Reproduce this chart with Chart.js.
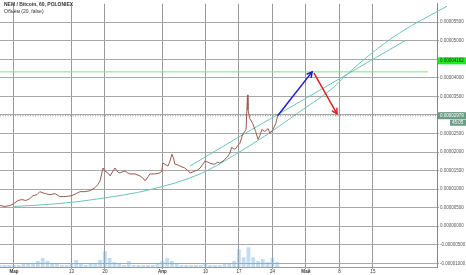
<!DOCTYPE html>
<html lang="ru">
<head>
<meta charset="UTF-8">
<title>NEM / Bitcoin, 60, POLONIEX</title>
<script src="https://cdn.jsdelivr.net/npm/chart.js"></script>
<style>
  html, body { margin: 0; padding: 0; background: #fff; }
  #wrap { width: 466px; height: 275px; }
</style>
</head>
<body>
<div id="wrap"><canvas id="chart" width="466" height="275"></canvas></div>
<script>
// days are counted from 1 March, prices are in satoshi (1e-8 BTC)
const tickDays  = [0, 12, 19, 31, 40, 47, 54, 61, 68, 75];
const tickText  = ['Мар', '13', '20', 'Апр', '10', '17', '24', 'Май', '8', '15'];
const monthTicks = ['Мар', 'Апр', 'Май'];
const yTicks = [5500, 5000, 4500, 4000, 3500, 3000, 2500, 2000, 1500, 1000, 500, 0, -500, -1000];

const priceDays = [-2.9,-1.9,-0.8,0,0.8,1.7,2.5,3.3,4.0,4.8,5.4,6.5,7.5,8.6,9.6,10.7,12.1,13.0,13.8,14.8,
  15.9,16.9,17.5,18.0,18.6,19.0,19.6,20.1,20.7,21.1,21.7,22.1,23.2,23.8,24.2,25.3,26.3,26.9,27.4,28.0,
  28.4,29.5,30.5,30.9,31.1,31.8,32.2,32.6,33.0,33.4,33.6,34.3,34.7,35.7,36.4,36.8,37.4,37.8,38.4,38.9,
  39.5,39.9,40.5,40.9,41.6,42.0,42.6,43.0,43.7,44.1,44.7,45.1,45.5,46.0,46.4,46.8,47.2,47.8,48.5,48.8,
  48.9,49.3,49.9,50.5,51.0,51.4,51.8,52.4,53.1,53.5,54.1,54.7,55.1];
const priceSat = [559,532,559,612,692,718,692,745,825,851,931,878,851,878,798,798,825,878,931,931,
  958,1037,1117,1224,1569,1490,1436,1357,1490,1569,1463,1436,1490,1436,1410,1410,1357,1303,1224,1330,
  1410,1410,1436,1490,1702,1649,1623,1756,1942,1809,1676,1649,1623,1569,1490,1436,1463,1490,1516,1569,
  1676,1756,1729,1702,1676,1676,1729,1702,1756,1809,1889,1968,2128,2075,2101,2181,2234,2474,2607,3540,
  3139,2899,2766,2554,2341,2447,2607,2554,2633,2500,2607,2766,2979];

// volume (arbitrary units), one bar per day from day -3
const volStart = -3;
const volume = [2,2,2,2,2,3,3,4,6,9,6,4,3,2,2,3,7,3,2,3,4,7,16,9,5,4,2,6,2,2,
  2,2,2,4,6,9,6,4,2,2,2,2,2,3,2,2,2,3,4,6,18,10,20,10,6,8,5,9,5];

// drawn curves
const curveDays = [0, 9.6, 18.0, 28.4, 38.9, 45.7, 52.9, 59.7, 66.6, 69.6, 74.4, 80.6, 90.5];
const curveSat  = [532, 612, 745, 984, 1410, 1889, 2474, 3086, 3724, 4096, 4628, 5214, 5932];
const channelDays = [36.8, 47.2, 59.7, 69.6, 81.7];
const channelSat  = [1623, 2421, 3352, 4096, 5001];

// forecast arrows and levels
const upArrowDays = [55.1, 62.3];
const upArrowSat  = [2979, 4162];
const downArrowDays = [62.7, 67.5];
const downArrowSat  = [4130, 3030];
const targetLevel = 4162;
const targetEndDay = 86.5;
const lastPrice = 2979;
const countdown = '45:05';

const xMin = -2.92, xMax = 88.4;
const yMin = -1100, yMax = 6000;

const pts = (xs, ys) => xs.map((x, i) => ({ x: x, y: ys[i] }));
const fmt = v => (v / 1e8).toFixed(8);
const isMonth = v => monthTicks.includes(tickText[tickDays.indexOf(v)]);

const extras = {
  id: 'extras',
  afterDatasetsDraw(chart) {
    const ctx = chart.ctx;
    // arrow heads
    chart.data.datasets.forEach((ds, i) => {
      if (!ds.arrowHead) return;
      const d = chart.getDatasetMeta(i).data;
      const a = d[d.length - 2], b = d[d.length - 1];
      const ang = Math.atan2(b.y - a.y, b.x - a.x);
      ctx.save();
      ctx.strokeStyle = ds.borderColor;
      ctx.lineWidth = 1.5;
      ctx.beginPath();
      ctx.moveTo(b.x - 6 * Math.cos(ang - 0.5), b.y - 6 * Math.sin(ang - 0.5));
      ctx.lineTo(b.x, b.y);
      ctx.lineTo(b.x - 6 * Math.cos(ang + 0.5), b.y - 6 * Math.sin(ang + 0.5));
      ctx.stroke();
      ctx.restore();
    });
  },
  afterDraw(chart) {
    const ctx = chart.ctx;
    const y = chart.scales.y;
    const left = chart.chartArea.right + 1;
    ctx.save();
    // header
    ctx.fillStyle = '#333';
    ctx.textBaseline = 'middle';
    ctx.font = 'bold 5px "Liberation Sans", Arial';
    ctx.fillText('NEM / Bitcoin, 60, POLONIEX', 4, 5);
    ctx.font = '5px "Liberation Sans", Arial';
    ctx.fillText('Объём (20, false)', 4, 11.5);
    // target label
    const ty = y.getPixelForValue(targetLevel) - 11;
    ctx.fillStyle = '#22e822';
    ctx.fillRect(left, ty - 3.5, 466 - left, 7);
    ctx.fillStyle = '#114411';
    ctx.font = '4.5px "Liberation Sans", Arial';
    ctx.fillText(fmt(targetLevel), left + 2, ty);
    // last price label
    const py = y.getPixelForValue(lastPrice);
    ctx.fillStyle = '#6a9c86';
    ctx.fillRect(left, py - 3.5, 466 - left, 7);
    ctx.fillRect(left + 12, py + 4, 466 - left - 12, 6);
    ctx.fillStyle = '#ffffff';
    ctx.fillText(fmt(lastPrice), left + 2, py);
    ctx.fillText(countdown, left + 14, py + 7);
    ctx.restore();
  }
};

new Chart(document.getElementById('chart'), {
  type: 'line',
  data: {
    datasets: [
      {
        label: 'Цена',
        data: pts(priceDays, priceSat),
        borderColor: '#9c5a52',
        borderWidth: 1,
        pointRadius: 0,
        tension: 0,
        order: 2
      },
      {
        label: 'Кривая',
        data: pts(curveDays, curveSat),
        borderColor: '#6cc4b6',
        borderWidth: 1,
        pointRadius: 0,
        cubicInterpolationMode: 'monotone',
        clip: false,
        order: 3
      },
      {
        label: 'Канал',
        data: pts(channelDays, channelSat),
        borderColor: '#6cc4b6',
        borderWidth: 1,
        pointRadius: 0,
        cubicInterpolationMode: 'monotone',
        order: 3
      },
      {
        label: 'Цель',
        data: pts([xMin, targetEndDay], [targetLevel, targetLevel]),
        borderColor: '#86e086',
        borderWidth: 1,
        pointRadius: 0,
        order: 4
      },
      {
        label: 'Последняя',
        data: pts([xMin, xMax], [lastPrice, lastPrice]),
        borderColor: '#8a8a8a',
        borderWidth: 1,
        borderDash: [1, 1.5],
        pointRadius: 0,
        order: 4
      },
      {
        label: 'Рост',
        data: pts(upArrowDays, upArrowSat),
        borderColor: '#1c1cd0',
        borderWidth: 1.5,
        pointRadius: 0,
        arrowHead: true,
        order: 1
      },
      {
        label: 'Падение',
        data: pts(downArrowDays, downArrowSat),
        borderColor: '#e02020',
        borderWidth: 1.5,
        pointRadius: 0,
        arrowHead: true,
        order: 1
      },
      {
        type: 'bar',
        label: 'Объём',
        data: volume.map((v, i) => ({ x: volStart + i, y: v })),
        backgroundColor: 'rgba(120,180,225,0.45)',
        barPercentage: 0.8,
        categoryPercentage: 1,
        yAxisID: 'yVol',
        order: 10
      }
    ]
  },
  options: {
    responsive: false,
    animation: false,
    layout: { padding: 0 },
    plugins: { legend: { display: false }, tooltip: { enabled: false } },
    scales: {
      x: {
        type: 'linear',
        min: xMin,
        max: xMax,
        offset: false,
        afterBuildTicks: s => { s.ticks = tickDays.map(v => ({ value: v })); },
        afterFit: s => { s.height = 8; },
        ticks: {
          autoSkip: false,
          maxRotation: 0,
          padding: 0,
          color: '#333',
          font: c => ({
            family: '"Liberation Sans", Arial',
            size: 4.5,
            weight: (c.tick && isMonth(c.tick.value)) ? 'bold' : 'normal'
          }),
          callback: v => tickText[tickDays.indexOf(v)]
        },
        grid: { color: '#9a9a9a', lineWidth: 1, tickLength: 2, offset: false },
        border: { color: '#9a9a9a' }
      },
      y: {
        type: 'linear',
        position: 'right',
        min: yMin,
        max: yMax,
        afterBuildTicks: s => { s.ticks = yTicks.map(v => ({ value: v })); },
        afterFit: s => { s.width = 29; },
        ticks: {
          padding: 1,
          color: '#555',
          font: { family: '"Liberation Sans", Arial', size: 4.5 },
          callback: v => fmt(v)
        },
        grid: { color: '#a8a8a8', lineWidth: 1, tickLength: 2 },
        border: { color: '#888' }
      },
      yVol: {
        display: false,
        min: 0,
        max: 267
      }
    }
  },
  plugins: [extras]
});
</script>
</body>
</html>
